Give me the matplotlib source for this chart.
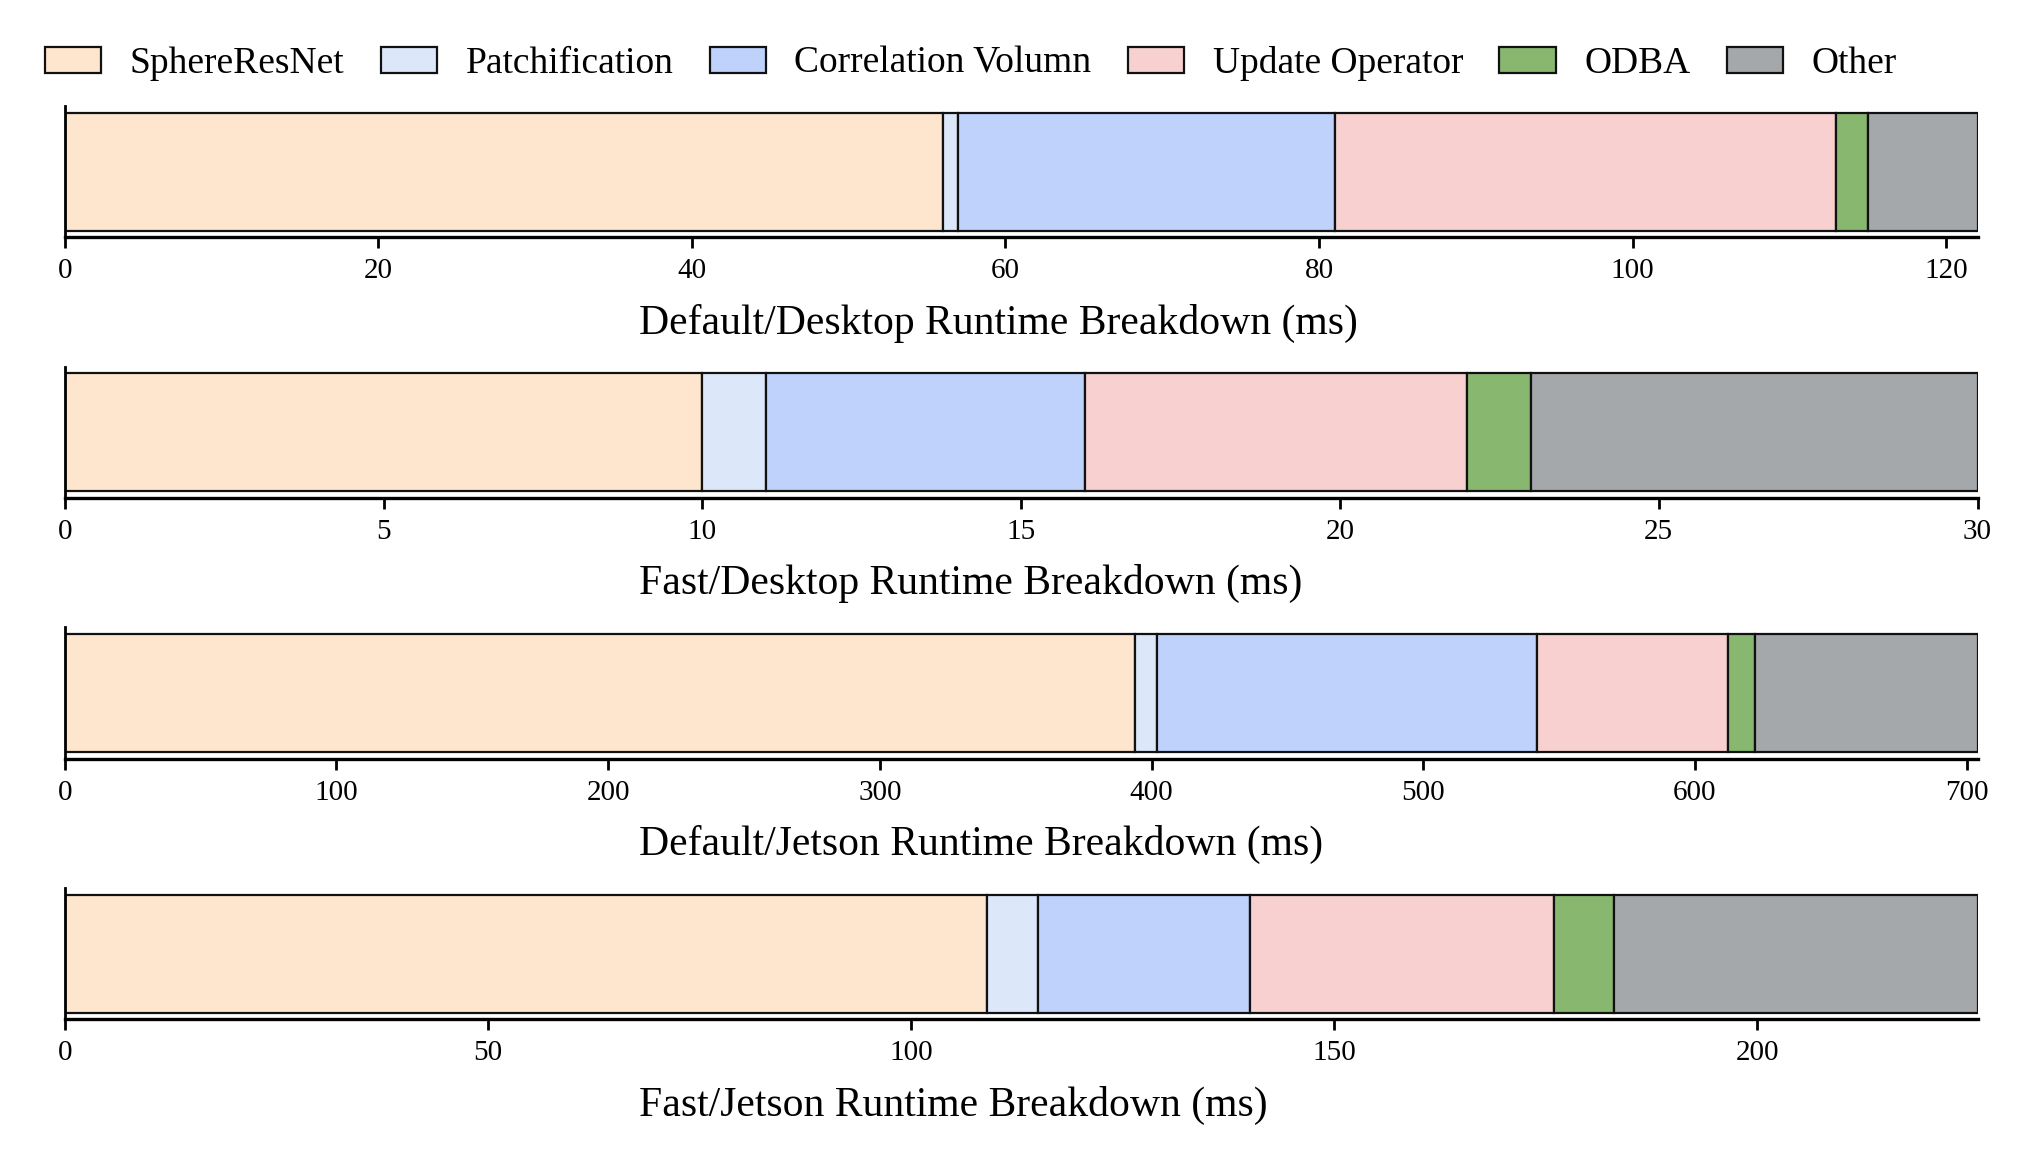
import matplotlib
matplotlib.use("Agg")
import matplotlib.pyplot as plt
import numpy as np

# %% data (ms per stage)
stages = ["SphereResNet", "Patchification", "Correlation Volumn",
          "Update Operator", "ODBA", "Other"]
colors = ["#FEE6CE", "#DCE8FA", "#BFD2FC", "#F7D0CF", "#88B870", "#A4A8AB"]

defaultDesktop = [56, 1, 24, 32, 2, 7]
fastDesktop = [10, 1, 5, 6, 1, 7]
defaultJetson = [394, 8, 140, 70, 10, 82]
fastJetson = [109, 6, 25, 36, 7, 43]

panels = [defaultDesktop, fastDesktop, defaultJetson, fastJetson]
labels = ["Default/Desktop Runtime Breakdown (ms)",
          "Fast/Desktop Runtime Breakdown (ms)",
          "Default/Jetson Runtime Breakdown (ms)",
          "Fast/Jetson Runtime Breakdown (ms)"]
tickSteps = [20, 5, 100, 50]

plt.rcParams["font.family"] = ["Liberation Serif", "DejaVu Serif"]

# %% plot
fig = plt.figure(figsize=(10.11, 5.76), dpi=200)

bottoms = [0.794 - i * 0.2263 for i in range(4)]
for vals, lab, step, b in zip(panels, labels, tickSteps, bottoms):
    ax = fig.add_axes([0.032, b, 0.946, 0.114])
    left = 0
    for v, c, name in zip(vals, colors, stages):
        ax.barh(0, v, left=left, height=0.9, color=c, edgecolor="#111111",
                linewidth=0.8, label=name)
        left += v
    ax.set_xlim(0, left)
    ax.set_ylim(-0.5, 0.5)
    ax.set_yticks([])
    ax.set_xticks(np.arange(0, left + 0.01, step))
    ax.tick_params(axis="x", labelsize=10.5, length=4, width=1)
    ax.spines["top"].set_visible(False)
    ax.spines["right"].set_visible(False)
    ax.spines["left"].set_linewidth(1.0)
    ax.spines["bottom"].set_linewidth(1.2)
    # labels all start at the same x in the original
    ax.set_xlabel(lab, fontsize=15, labelpad=7, x=0.3,
                  horizontalalignment="left")
    if b == bottoms[0]:
        handles, hlabels = ax.get_legend_handles_labels()

fig.legend(handles, hlabels, loc="center left", bbox_to_anchor=(0.0055, 0.945),
           ncol=6, frameon=False, fontsize=13.5, handlelength=1.5,
           handleheight=0.7, handletextpad=0.76, columnspacing=0.97)

fig.savefig("out.png", dpi=200)
